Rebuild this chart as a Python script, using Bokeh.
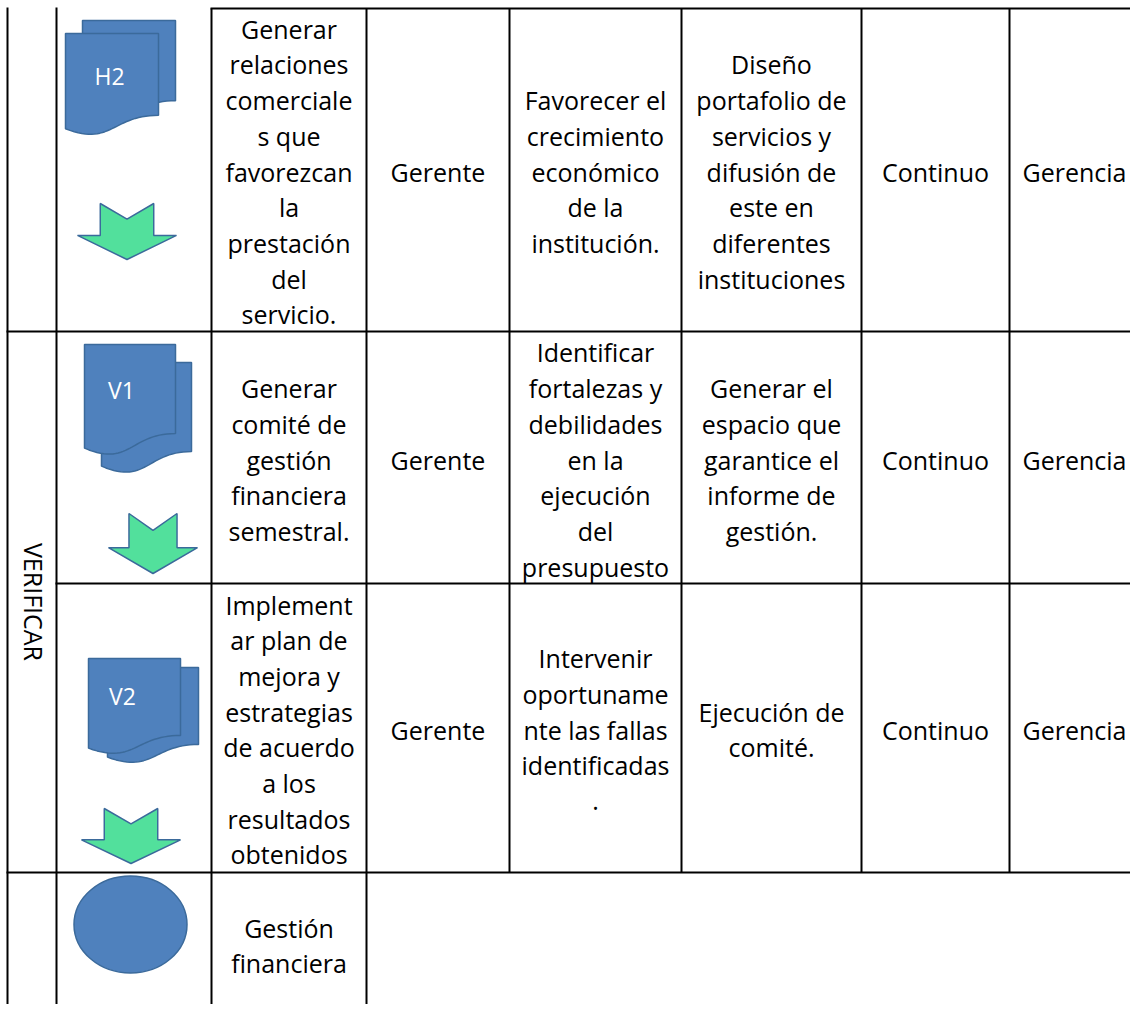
import math
from bokeh.plotting import figure
from bokeh.models import Range1d
from bokeh.core.properties import value
from bokeh.embed import file_html
from bokeh.resources import INLINE

# ---------------- content ----------------
phase_label = "VERIFICAR"

activities = [
    ["Generar", "relaciones", "comerciale", "s que", "favorezcan", "la", "prestación", "del", "servicio."],
    ["Generar", "comité de", "gestión", "financiera", "semestral."],
    ["Implement", "ar plan de", "mejora y", "estrategias", "de acuerdo", "a los", "resultados", "obtenidos"],
    ["Gestión", "financiera"],
]
responsables = [["Gerente"], ["Gerente"], ["Gerente"], []]
objetivos = [
    ["Favorecer el", "crecimiento", "económico", "de la", "institución."],
    ["Identificar", "fortalezas y", "debilidades", "en la", "ejecución", "del", "presupuesto"],
    ["Intervenir", "oportuname", "nte las fallas", "identificadas", "."],
    [],
]
acciones = [
    ["Diseño", "portafolio de", "servicios y", "difusión de", "este en", "diferentes", "instituciones"],
    ["Generar el", "espacio que", "garantice el", "informe de", "gestión."],
    ["Ejecución de", "comité."],
    [],
]
frecuencia = [["Continuo"], ["Continuo"], ["Continuo"], []]
area = [["Gerencia"], ["Gerencia"], ["Gerencia"], []]
shape_labels = ["H2", "V1", "V2"]

# ---------------- layout ----------------
W, H = 1130, 1004
col_x = [7, 56, 211, 366, 509, 681, 861, 1009, 1139]
row_y = [8, 331, 583, 872, 1012]
row_text_c = [171, 459, 729, 945]
line_gap = 35.7
FONT = "Open Sans"
FS = "25px"

p = figure(width=W, height=H, x_range=Range1d(0, W), y_range=Range1d(H, 0),
           output_backend="svg", toolbar_location=None, x_axis_type=None, y_axis_type=None,
           min_border=0, outline_line_color=None, background_fill_color="white",
           border_fill_color="white")
p.grid.visible = False

# ---------------- grid lines ----------------
lc = "black"
lw = 2
bottom = 1012
v_specs = [(col_x[0], 7, bottom), (col_x[1], 7, bottom), (col_x[2], 8, bottom), (col_x[3], 8, bottom),
           (col_x[4], 8, row_y[3]), (col_x[5], 8, row_y[3]), (col_x[6], 8, row_y[3]), (col_x[7], 8, row_y[3])]
p.segment([v[0] for v in v_specs], [v[1] for v in v_specs],
          [v[0] for v in v_specs], [v[2] for v in v_specs], line_color=lc, line_width=lw)
h_specs = [(col_x[2] - 1, 1145, row_y[0]), (col_x[0] - 1, 1145, row_y[1]),
           (col_x[1] - 1, 1145, row_y[2]), (col_x[0] - 1, 1145, row_y[3])]
p.segment([h[0] for h in h_specs], [h[2] for h in h_specs],
          [h[1] for h in h_specs], [h[2] for h in h_specs], line_color=lc, line_width=lw)

# ---------------- text cells ----------------
tx, ty, tt = [], [], []
columns = [(2, activities), (3, responsables), (4, objetivos), (5, acciones), (6, frecuencia), (7, area)]
for ci, data in columns:
    cx = (col_x[ci] + col_x[ci + 1]) / 2.0
    for ri, lines in enumerate(data):
        n = len(lines)
        for k, s in enumerate(lines):
            tx.append(cx)
            ty.append(row_text_c[ri] + (k - (n - 1) / 2.0) * line_gap)
            tt.append(s)
p.text(x=tx, y=ty, text=tt, text_align="center", text_baseline="middle",
       text_font=value(FONT), text_font_size=FS, text_color="black")

# phase label, rotated
p.text(x=[33], y=[(row_y[1] + row_y[3]) / 2.0], text=[phase_label],
       angle=-math.pi / 2, text_align="center", text_baseline="middle",
       text_font=value(FONT), text_font_size=FS, text_color="black")

# ---------------- flowchart shapes ----------------
BLUE = "#4F81BD"
BLUE_EDGE = "#3B6A9B"
GREEN = "#52E09C"


def document(l, t, w, h, n=30):
    xs = [l, l + w, l + w]
    ys = [t, t, t + 0.802 * h]
    p0 = (l + w, t + 0.802 * h)
    c1 = (l + 0.5 * w, t + 0.802 * h)
    c2 = (l + 0.5 * w, t + 1.1075 * h)
    p3 = (l, t + 0.934 * h)
    for i in range(1, n + 1):
        s = i / n
        a, b, c, d = (1 - s) ** 3, 3 * (1 - s) ** 2 * s, 3 * (1 - s) * s ** 2, s ** 3
        xs.append(a * p0[0] + b * c1[0] + c * c2[0] + d * p3[0])
        ys.append(a * p0[1] + b * c1[1] + c * c2[1] + d * p3[1])
    return xs, ys


# (back page box, front page box, label position)
docs = [
    ((82, 20, 93, 100), (65, 33, 93, 102), (109, 75)),
    ((101, 362, 90, 111), (84, 344, 91, 111), (121, 389)),
    ((107, 667, 91, 96), (88, 658, 92, 96), (122, 695)),
]
bx, by = [], []
for back, front, _ in docs:
    for box in (back, front):
        xs, ys = document(*box)
        bx.append(xs); by.append(ys)
p.patches(bx, by, fill_color=BLUE, line_color=BLUE_EDGE, line_width=1.5)
p.text(x=[d[2][0] for d in docs], y=[d[2][1] for d in docs], text=shape_labels,
       text_align="center", text_baseline="middle", text_font=value(FONT),
       text_font_size="23px", text_color="white")


def arrow(cx, top, w, h):
    sw = 0.27 * w
    hw = 0.5 * w
    return ([cx - sw, cx, cx + sw, cx + sw, cx + hw, cx, cx - hw, cx - sw],
            [top, top + 0.28 * h, top, top + 0.57 * h, top + 0.57 * h, top + h, top + 0.57 * h, top + 0.57 * h])


arrows = [(126.5, 203, 99, 56), (152.5, 513, 89, 60), (130.5, 808, 99, 55)]
ax, ay = [], []
for a in arrows:
    xs, ys = arrow(*a)
    ax.append(xs); ay.append(ys)
p.patches(ax, ay, fill_color=GREEN, line_color=BLUE_EDGE, line_width=1.5)

# terminator ellipse
p.ellipse(x=[130], y=[924], width=[113], height=[97], fill_color=BLUE,
          line_color=BLUE_EDGE, line_width=1.5)

open("out.html", "w").write(file_html(p, INLINE))
